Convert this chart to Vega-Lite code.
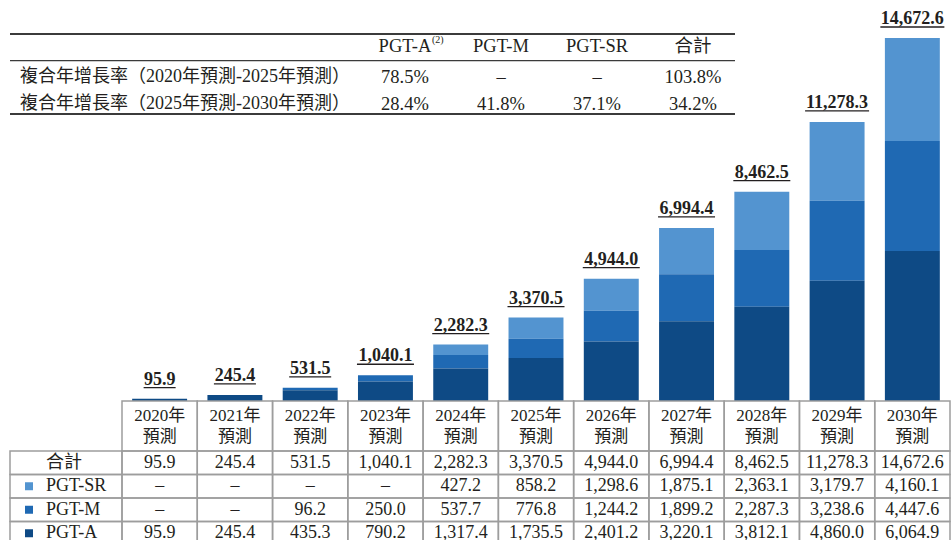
{
  "$schema": "https://vega.github.io/schema/vega-lite/v6.json",
  "width": 951,
  "height": 540,
  "autosize": {"type": "none"},
  "padding": 0,
  "background": "white",
  "config": {
    "view": {"stroke": null},
    "font": "'Liberation Serif', 'Noto Sans CJK TC'",
    "text": {"font": "'Liberation Serif', 'Noto Sans CJK TC'", "color": "#231f20"}
  },
  "datasets": {
    "cells": [
      {"year": "2020年", "series": "合計", "value": 95.9},
      {"year": "2020年", "series": "PGT-SR", "value": null},
      {"year": "2020年", "series": "PGT-M", "value": null},
      {"year": "2020年", "series": "PGT-A", "value": 95.9},
      {"year": "2021年", "series": "合計", "value": 245.4},
      {"year": "2021年", "series": "PGT-SR", "value": null},
      {"year": "2021年", "series": "PGT-M", "value": null},
      {"year": "2021年", "series": "PGT-A", "value": 245.4},
      {"year": "2022年", "series": "合計", "value": 531.5},
      {"year": "2022年", "series": "PGT-SR", "value": null},
      {"year": "2022年", "series": "PGT-M", "value": 96.2},
      {"year": "2022年", "series": "PGT-A", "value": 435.3},
      {"year": "2023年", "series": "合計", "value": 1040.1},
      {"year": "2023年", "series": "PGT-SR", "value": null},
      {"year": "2023年", "series": "PGT-M", "value": 250.0},
      {"year": "2023年", "series": "PGT-A", "value": 790.2},
      {"year": "2024年", "series": "合計", "value": 2282.3},
      {"year": "2024年", "series": "PGT-SR", "value": 427.2},
      {"year": "2024年", "series": "PGT-M", "value": 537.7},
      {"year": "2024年", "series": "PGT-A", "value": 1317.4},
      {"year": "2025年", "series": "合計", "value": 3370.5},
      {"year": "2025年", "series": "PGT-SR", "value": 858.2},
      {"year": "2025年", "series": "PGT-M", "value": 776.8},
      {"year": "2025年", "series": "PGT-A", "value": 1735.5},
      {"year": "2026年", "series": "合計", "value": 4944.0},
      {"year": "2026年", "series": "PGT-SR", "value": 1298.6},
      {"year": "2026年", "series": "PGT-M", "value": 1244.2},
      {"year": "2026年", "series": "PGT-A", "value": 2401.2},
      {"year": "2027年", "series": "合計", "value": 6994.4},
      {"year": "2027年", "series": "PGT-SR", "value": 1875.1},
      {"year": "2027年", "series": "PGT-M", "value": 1899.2},
      {"year": "2027年", "series": "PGT-A", "value": 3220.1},
      {"year": "2028年", "series": "合計", "value": 8462.5},
      {"year": "2028年", "series": "PGT-SR", "value": 2363.1},
      {"year": "2028年", "series": "PGT-M", "value": 2287.3},
      {"year": "2028年", "series": "PGT-A", "value": 3812.1},
      {"year": "2029年", "series": "合計", "value": 11278.3},
      {"year": "2029年", "series": "PGT-SR", "value": 3179.7},
      {"year": "2029年", "series": "PGT-M", "value": 3238.6},
      {"year": "2029年", "series": "PGT-A", "value": 4860.0},
      {"year": "2030年", "series": "合計", "value": 14672.6},
      {"year": "2030年", "series": "PGT-SR", "value": 4160.1},
      {"year": "2030年", "series": "PGT-M", "value": 4447.6},
      {"year": "2030年", "series": "PGT-A", "value": 6064.9}
    ],
    "cagr": [
      {"period": "複合年增長率（2020年預測-2025年預測）", "col": "PGT-A", "rate": 0.785},
      {"period": "複合年增長率（2020年預測-2025年預測）", "col": "PGT-M", "rate": null},
      {"period": "複合年增長率（2020年預測-2025年預測）", "col": "PGT-SR", "rate": null},
      {"period": "複合年增長率（2020年預測-2025年預測）", "col": "合計", "rate": 1.038},
      {"period": "複合年增長率（2025年預測-2030年預測）", "col": "PGT-A", "rate": 0.284},
      {"period": "複合年增長率（2025年預測-2030年預測）", "col": "PGT-M", "rate": 0.418},
      {"period": "複合年增長率（2025年預測-2030年預測）", "col": "PGT-SR", "rate": 0.371},
      {"period": "複合年增長率（2025年預測-2030年預測）", "col": "合計", "rate": 0.342}
    ]
  },
  "resolve": {"scale": {"x": "independent", "y": "independent", "color": "independent", "size": "independent"}},
  "layer": [
    {
      "data": {"name": "cells"},
      "transform": [{"filter": "datum.series !== '合計' && datum.value != null"}],
      "mark": {"type": "bar", "width": {"band": 0.73}},
      "encoding": {
        "x": {"field": "year", "type": "nominal", "axis": null, "scale": {"type": "band", "domain": ["2020年","2021年","2022年","2023年","2024年","2025年","2026年","2027年","2028年","2029年","2030年"], "range": [122, 950], "paddingInner": 0, "paddingOuter": 0}},
        "y": {"field": "value", "type": "quantitative", "stack": "zero", "axis": null, "scale": {"domain": [0, 14672.6], "range": [401, 38], "nice": false}},
        "color": {"field": "series", "type": "nominal", "legend": null, "scale": {"domain": ["PGT-A", "PGT-M", "PGT-SR"], "range": ["#0e4a85", "#1f69b3", "#5394d0"]}},
        "order": {"field": "series", "sort": "ascending"}
      }
    },
    {
      "data": {"name": "cells"},
      "transform": [{"filter": "datum.series === '合計'"}],
      "mark": {"type": "text", "fontWeight": "bold", "fontSize": 18, "baseline": "alphabetic", "dy": -14},
      "encoding": {
        "x": {"field": "year", "type": "nominal", "axis": null, "scale": {"type": "band", "domain": ["2020年","2021年","2022年","2023年","2024年","2025年","2026年","2027年","2028年","2029年","2030年"], "range": [122, 950], "paddingInner": 0, "paddingOuter": 0}},
        "y": {"field": "value", "type": "quantitative", "axis": null, "scale": {"domain": [0, 14672.6], "range": [401, 38], "nice": false}},
        "text": {"field": "value", "type": "quantitative", "format": ",.1f"}
      }
    },
    {
      "data": {"name": "cells"},
      "transform": [{"filter": "datum.series === '合計'"}],
      "mark": {"type": "tick", "orient": "horizontal", "thickness": 1.3, "color": "#231f20", "opacity": 1, "yOffset": -11},
      "encoding": {
        "x": {"field": "year", "type": "nominal", "axis": null, "scale": {"type": "band", "domain": ["2020年","2021年","2022年","2023年","2024年","2025年","2026年","2027年","2028年","2029年","2030年"], "range": [122, 950], "paddingInner": 0, "paddingOuter": 0}},
        "y": {"field": "value", "type": "quantitative", "axis": null, "scale": {"domain": [0, 14672.6], "range": [401, 38], "nice": false}},
        "size": {"field": "value", "type": "quantitative", "legend": null, "scale": {"type": "threshold", "domain": [100, 1000, 10000], "range": [32, 42, 57, 64]}}
      }
    },
    {
      "data": {"name": "cells"},
      "transform": [{"filter": "datum.series === '合計'"}],
      "mark": {"type": "rect", "fill": "white", "fillOpacity": 0, "stroke": "#9d9d9d", "strokeWidth": 1.5},
      "encoding": {
        "x": {"field": "year", "type": "nominal", "axis": null, "scale": {"type": "band", "domain": ["2020年","2021年","2022年","2023年","2024年","2025年","2026年","2027年","2028年","2029年","2030年"], "range": [122, 950], "paddingInner": 0, "paddingOuter": 0}},
        "y": {"datum": 0, "type": "quantitative", "axis": null, "scale": {"domain": [0, 1], "range": [401, 451], "nice": false, "zero": false}},
        "y2": {"datum": 1}
      }
    },
    {
      "data": {"name": "cells"},
      "transform": [{"filter": "datum.series === '合計'"}],
      "mark": {"type": "text", "fontSize": 17, "baseline": "middle", "dy": -10.5},
      "encoding": {
        "x": {"field": "year", "type": "nominal", "axis": null, "scale": {"type": "band", "domain": ["2020年","2021年","2022年","2023年","2024年","2025年","2026年","2027年","2028年","2029年","2030年"], "range": [122, 950], "paddingInner": 0, "paddingOuter": 0}},
        "y": {"datum": 0.5, "type": "quantitative", "axis": null, "scale": {"domain": [0, 1], "range": [401, 451], "nice": false, "zero": false}},
        "text": {"field": "year", "type": "nominal"}
      }
    },
    {
      "data": {"name": "cells"},
      "transform": [{"filter": "datum.series === '合計'"}],
      "mark": {"type": "text", "fontSize": 17, "baseline": "middle", "dy": 10.5},
      "encoding": {
        "x": {"field": "year", "type": "nominal", "axis": null, "scale": {"type": "band", "domain": ["2020年","2021年","2022年","2023年","2024年","2025年","2026年","2027年","2028年","2029年","2030年"], "range": [122, 950], "paddingInner": 0, "paddingOuter": 0}},
        "y": {"datum": 0.5, "type": "quantitative", "axis": null, "scale": {"domain": [0, 1], "range": [401, 451], "nice": false, "zero": false}},
        "text": {"value": "預測"}
      }
    },
    {
      "data": {"name": "cells"},
      "mark": {"type": "rect", "fill": "white", "fillOpacity": 0, "stroke": "#9d9d9d", "strokeWidth": 1.5},
      "encoding": {
        "x": {"field": "year", "type": "nominal", "axis": null, "scale": {"type": "band", "domain": ["2020年","2021年","2022年","2023年","2024年","2025年","2026年","2027年","2028年","2029年","2030年"], "range": [122, 950], "paddingInner": 0, "paddingOuter": 0}},
        "y": {"field": "series", "type": "nominal", "axis": null, "scale": {"type": "band", "domain": ["合計", "PGT-SR", "PGT-M", "PGT-A"], "range": [451, 545], "paddingInner": 0, "paddingOuter": 0}}
      }
    },
    {
      "data": {"name": "cells"},
      "mark": {"type": "text", "fontSize": 18, "baseline": "middle"},
      "encoding": {
        "x": {"field": "year", "type": "nominal", "axis": null, "scale": {"type": "band", "domain": ["2020年","2021年","2022年","2023年","2024年","2025年","2026年","2027年","2028年","2029年","2030年"], "range": [122, 950], "paddingInner": 0, "paddingOuter": 0}},
        "y": {"field": "series", "type": "nominal", "axis": null, "scale": {"type": "band", "domain": ["合計", "PGT-SR", "PGT-M", "PGT-A"], "range": [451, 545], "paddingInner": 0, "paddingOuter": 0}},
        "text": {"condition": {"test": "datum.value == null", "value": "–"}, "field": "value", "type": "quantitative", "format": ",.1f"}
      }
    },
    {
      "data": {"name": "cells"},
      "transform": [{"filter": "datum.year === '2020年'"}],
      "mark": {"type": "rect", "fill": "white", "fillOpacity": 0, "stroke": "#9d9d9d", "strokeWidth": 1.5},
      "encoding": {
        "x": {"datum": 0, "type": "quantitative", "axis": null, "scale": {"domain": [0, 1], "range": [10, 122], "nice": false, "zero": false}},
        "x2": {"datum": 1},
        "y": {"field": "series", "type": "nominal", "axis": null, "scale": {"type": "band", "domain": ["合計", "PGT-SR", "PGT-M", "PGT-A"], "range": [451, 545], "paddingInner": 0, "paddingOuter": 0}}
      }
    },
    {
      "data": {"name": "cells"},
      "transform": [{"filter": "datum.year === '2020年'"}],
      "mark": {"type": "text", "fontSize": 18, "baseline": "middle", "align": "left", "dx": 36},
      "encoding": {
        "x": {"datum": 0, "type": "quantitative", "axis": null, "scale": {"domain": [0, 1], "range": [10, 122], "nice": false, "zero": false}},
        "y": {"field": "series", "type": "nominal", "axis": null, "scale": {"type": "band", "domain": ["合計", "PGT-SR", "PGT-M", "PGT-A"], "range": [451, 545], "paddingInner": 0, "paddingOuter": 0}},
        "text": {"field": "series", "type": "nominal"}
      }
    },
    {
      "data": {"name": "cells"},
      "transform": [{"filter": "datum.year === '2020年' && datum.series !== '合計'"}],
      "mark": {"type": "square", "size": 64, "opacity": 1, "xOffset": 19},
      "encoding": {
        "x": {"datum": 0, "type": "quantitative", "axis": null, "scale": {"domain": [0, 1], "range": [10, 122], "nice": false, "zero": false}},
        "y": {"field": "series", "type": "nominal", "axis": null, "scale": {"type": "band", "domain": ["合計", "PGT-SR", "PGT-M", "PGT-A"], "range": [451, 545], "paddingInner": 0, "paddingOuter": 0}},
        "color": {"field": "series", "type": "nominal", "legend": null, "scale": {"domain": ["PGT-A", "PGT-M", "PGT-SR"], "range": ["#0e4a85", "#1f69b3", "#5394d0"]}}
      }
    },
    {
      "data": {"name": "cagr"},
      "transform": [{"filter": "datum.col === 'PGT-A' && datum.rate === 0.785"}],
      "mark": {"type": "rule", "strokeWidth": 2, "color": "#3b3b3b"},
      "encoding": {
        "x": {"datum": 0, "type": "quantitative", "axis": null, "scale": {"domain": [0, 1], "range": [10, 735], "nice": false, "zero": false}},
        "x2": {"datum": 1},
        "y": {"datum": "header", "type": "nominal", "bandPosition": 0, "axis": null, "scale": {"type": "band", "domain": ["header", "複合年增長率（2020年預測-2025年預測）", "複合年增長率（2025年預測-2030年預測）"], "range": [34, 114], "paddingInner": 0, "paddingOuter": 0}}
      }
    },
    {
      "data": {"name": "cagr"},
      "transform": [{"filter": "datum.col === 'PGT-A' && datum.rate === 0.785"}],
      "mark": {"type": "rule", "strokeWidth": 1.3, "color": "#3b3b3b"},
      "encoding": {
        "x": {"datum": 0, "type": "quantitative", "axis": null, "scale": {"domain": [0, 1], "range": [10, 735], "nice": false, "zero": false}},
        "x2": {"datum": 1},
        "y": {"datum": "header", "type": "nominal", "bandPosition": 1, "axis": null, "scale": {"type": "band", "domain": ["header", "複合年增長率（2020年預測-2025年預測）", "複合年增長率（2025年預測-2030年預測）"], "range": [34, 114], "paddingInner": 0, "paddingOuter": 0}}
      }
    },
    {
      "data": {"name": "cagr"},
      "transform": [{"filter": "datum.col === 'PGT-A' && datum.rate === 0.785"}],
      "mark": {"type": "rule", "strokeWidth": 2, "color": "#3b3b3b"},
      "encoding": {
        "x": {"datum": 0, "type": "quantitative", "axis": null, "scale": {"domain": [0, 1], "range": [10, 735], "nice": false, "zero": false}},
        "x2": {"datum": 1},
        "y": {"datum": "複合年增長率（2025年預測-2030年預測）", "type": "nominal", "bandPosition": 1, "axis": null, "scale": {"type": "band", "domain": ["header", "複合年增長率（2020年預測-2025年預測）", "複合年增長率（2025年預測-2030年預測）"], "range": [34, 114], "paddingInner": 0, "paddingOuter": 0}}
      }
    },
    {
      "data": {"name": "cagr"},
      "transform": [{"filter": "datum.period === '複合年增長率（2020年預測-2025年預測）'"}],
      "mark": {"type": "text", "fontSize": 18.5, "baseline": "middle", "dy": -1},
      "encoding": {
        "x": {"field": "col", "type": "nominal", "axis": null, "scale": {"type": "point", "domain": ["PGT-A", "PGT-M", "PGT-SR", "合計"], "range": [405, 693], "padding": 0}},
        "y": {"datum": "header", "type": "nominal", "axis": null, "scale": {"type": "band", "domain": ["header", "複合年增長率（2020年預測-2025年預測）", "複合年增長率（2025年預測-2030年預測）"], "range": [34, 114], "paddingInner": 0, "paddingOuter": 0}},
        "text": {"field": "col", "type": "nominal"}
      }
    },
    {
      "data": {"name": "cagr"},
      "transform": [{"filter": "datum.col === 'PGT-A' && datum.rate === 0.785"}],
      "mark": {"type": "text", "fontSize": 10, "baseline": "middle", "align": "left", "dx": 27, "dy": -7},
      "encoding": {
        "x": {"field": "col", "type": "nominal", "axis": null, "scale": {"type": "point", "domain": ["PGT-A", "PGT-M", "PGT-SR", "合計"], "range": [405, 693], "padding": 0}},
        "y": {"datum": "header", "type": "nominal", "axis": null, "scale": {"type": "band", "domain": ["header", "複合年增長率（2020年預測-2025年預測）", "複合年增長率（2025年預測-2030年預測）"], "range": [34, 114], "paddingInner": 0, "paddingOuter": 0}},
        "text": {"value": "(2)"}
      }
    },
    {
      "data": {"name": "cagr"},
      "mark": {"type": "text", "fontSize": 18.5, "baseline": "middle", "dy": 3},
      "encoding": {
        "x": {"field": "col", "type": "nominal", "axis": null, "scale": {"type": "point", "domain": ["PGT-A", "PGT-M", "PGT-SR", "合計"], "range": [405, 693], "padding": 0}},
        "y": {"field": "period", "type": "nominal", "axis": null, "scale": {"type": "band", "domain": ["header", "複合年增長率（2020年預測-2025年預測）", "複合年增長率（2025年預測-2030年預測）"], "range": [34, 114], "paddingInner": 0, "paddingOuter": 0}},
        "text": {"condition": {"test": "datum.rate == null", "value": "–"}, "field": "rate", "type": "quantitative", "format": ".1%"}
      }
    },
    {
      "data": {"name": "cagr"},
      "transform": [{"filter": "datum.col === 'PGT-A'"}],
      "mark": {"type": "text", "fontSize": 18, "baseline": "middle", "align": "left", "dx": 10, "dy": 3},
      "encoding": {
        "x": {"datum": 0, "type": "quantitative", "axis": null, "scale": {"domain": [0, 1], "range": [10, 735], "nice": false, "zero": false}},
        "y": {"field": "period", "type": "nominal", "axis": null, "scale": {"type": "band", "domain": ["header", "複合年增長率（2020年預測-2025年預測）", "複合年增長率（2025年預測-2030年預測）"], "range": [34, 114], "paddingInner": 0, "paddingOuter": 0}},
        "text": {"field": "period", "type": "nominal"}
      }
    }
  ]
}
